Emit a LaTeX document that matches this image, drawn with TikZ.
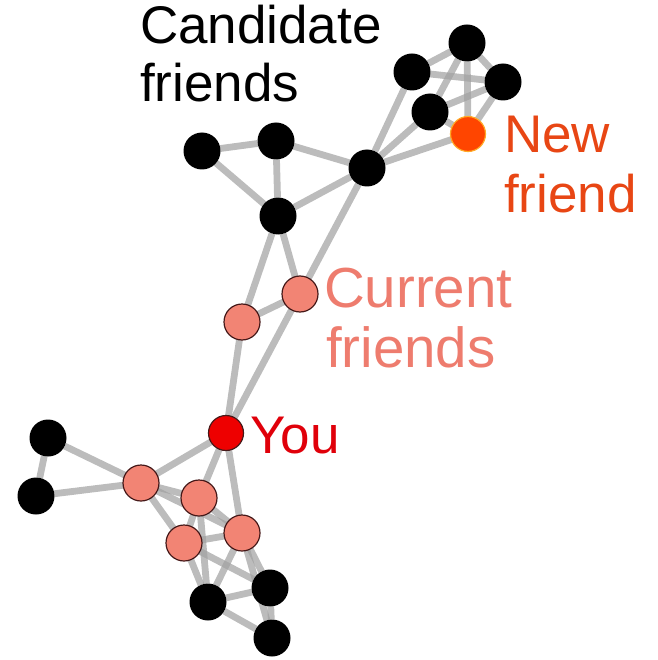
\documentclass[tikz,border=0pt]{standalone}
\usepackage{fontspec}
\setmainfont{Liberation Sans}
\usetikzlibrary{backgrounds}
\definecolor{edgegray}{RGB}{160,160,160}
\definecolor{pinkfill}{RGB}{242,132,116}
\definecolor{pinkdraw}{RGB}{70,25,25}
\definecolor{youred}{RGB}{238,0,0}
\definecolor{youtext}{RGB}{224,0,10}
\definecolor{nffill}{RGB}{255,69,0}
\definecolor{nfdraw}{RGB}{255,170,40}
\definecolor{nftext}{RGB}{232,70,20}
\definecolor{cftext}{RGB}{238,124,110}
\tikzset{
  every node/.style={inner sep=0pt, outer sep=0pt},
  cand/.style={circle, fill=black, minimum size=37pt},
  cur/.style={circle, fill=pinkfill, draw=pinkdraw, line width=1.2pt, minimum size=36pt},
  younode/.style={circle, fill=youred, draw=pinkdraw, line width=1.2pt, minimum size=35pt},
  newnode/.style={circle, fill=nffill, draw=nfdraw, line width=1.2pt, minimum size=35pt},
  link/.style={draw=edgegray, draw opacity=0.7, line width=6.8pt},
  lbl/.style={anchor=base west, font=\fontsize{53}{59}\selectfont},
  lblbig/.style={anchor=base west, font=\fontsize{56.5}{62}\selectfont},
}
\begin{document}
\begin{tikzpicture}[x=1pt,y=-1pt]
\useasboundingbox (0,0) rectangle (657,660);
% top-right cluster
\node[cand] (T1) at (467,43) {};
\node[cand] (T2) at (412,72) {};
\node[cand] (T3) at (503,82) {};
\node[cand] (T4) at (430,112) {};
\node[newnode] (NF) at (468,134) {};
\node[cand] (H) at (367,168) {};
% middle
\node[cand] (A) at (202,151) {};
\node[cand] (B) at (276,141) {};
\node[cand] (C) at (278,216) {};
\node[cur] (CF1) at (300,294) {};
\node[cur] (CF2) at (242,322) {};
\node[younode] (You) at (226,433) {};
% bottom cluster
\node[cand] (L1) at (48,438) {};
\node[cand] (L2) at (36,496) {};
\node[cur] (P1) at (141,483) {};
\node[cur] (P2) at (199,498) {};
\node[cur] (P3) at (184,543) {};
\node[cur] (P4) at (242,533) {};
\node[cand] (B1) at (208,602) {};
\node[cand] (B2) at (270,588) {};
\node[cand] (B3) at (272,638) {};
% labels
\node[lbl] (cand1) at (140,44) {Candidate};
\node[lbl] (cand2) at (140,102) {friends};
\node[lbl,text=nftext] (nf1) at (504,153) {New};
\node[lbl,text=nftext] (nf2) at (504,212) {friend};
\node[lblbig,text=cftext] (cf1) at (324,307) {Current};
\node[lblbig,text=cftext] (cf2) at (326,367) {friends};
\node[lbl,text=youtext] (you) at (250,453) {You};
\begin{pgfonlayer}{background}
\foreach \a/\b in {T2/T1,T2/T3,T1/T3,T1/NF,T1/T4,T4/T3,T3/NF,T4/NF,H/T2,H/T4,H/NF,
  A/B,A/C,B/C,B/H,C/H,C/CF1,C/CF2,CF1/CF2,H/CF1,CF1/You,CF2/You,
  L1/L2,L1/P1,L2/P1,P1/You,P1/P2,P1/P4,P1/P3,You/P2,You/P4,P2/P3,P2/P4,P2/B1,
  P3/P4,P3/B1,P3/B2,P4/B1,P4/B2,P4/B3,B1/B2,B1/B3,B2/B3}
  \draw[link] (\a) -- (\b);
\end{pgfonlayer}
\end{tikzpicture}
\end{document}
